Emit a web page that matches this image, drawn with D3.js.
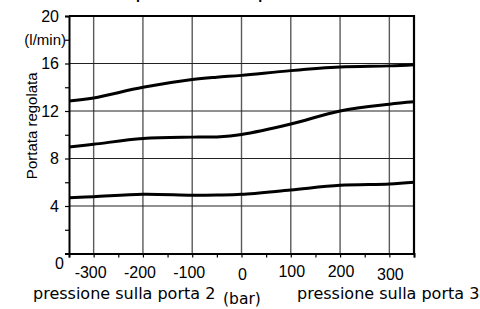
<!DOCTYPE html>
<html>
<head>
<meta charset="utf-8">
<script src="https://cdn.jsdelivr.net/npm/d3@7"></script>
<style>
    body { margin: 0; background: #fff; }
    svg { display: block; }
</style>
</head>
<body>
<div id="chartBoxId"><svg></svg></div>
<script>
// pressione (bar)
var pressure = [-350, -300, -200, -100, -50, 0, 100, 200, 300, 350]
// portata regolata (l/min), three curves
var curveHigh = [12.85, 13.1, 14.0, 14.65, 14.85, 15.0, 15.4, 15.7, 15.8, 15.9]
var curveMid = [8.97, 9.2, 9.68, 9.8, 9.82, 10.02, 10.9, 12.0, 12.57, 12.77]
var curveLow = [4.7, 4.78, 4.98, 4.9, 4.92, 4.98, 5.35, 5.74, 5.85, 6.0]

var xGrid = [-300, -200, -100, 0, 100, 200, 300]
var xMinor = [-350, -250, -150, -50, 50, 150, 250, 350]
var yGrid = [4, 8, 12, 16]
var yTicks = [0, 2, 4, 6, 8, 10, 12, 14, 16, 18, 20]
var yLabels = [
    {v: 20, t: "20"}, {v: 18, t: "(l/min)"}, {v: 16, t: "16"}, {v: 12, t: "12"},
    {v: 8, t: "8"}, {v: 4, t: "4"}, {v: 0, t: "0"}
]
var xLabels = ["-300", "-200", "-100", "0", "100", "200", "300"]

var margin = {top: 16, right: 66, bottom: 55.5, left: 69}
var width = 480 - margin.left - margin.right
var height = 309 - margin.top - margin.bottom

function showChart() {
    var svg = d3.select("#chartBoxId").select("svg")
        .attr("width", 480)
        .attr("height", 309)

    // title, almost all of it sits above the picture (only descenders show)
    svg.append("text")
        .attr("x", 136)
        .attr("y", -1)
        .style("font-family", "Liberation Sans, Arial, sans-serif")
        .style("font-size", "14.2px")
        .style("font-weight", "bold")
        .text("portata costante / pressione")

    var g = svg.append("g")
        .attr("transform", "translate(" + margin.left + "," + margin.top + ")")

    var xScale = d3.scaleLinear().domain([-350, 350]).range([0, width])
    var yScale = d3.scaleLinear().domain([0, 20]).range([height, 0])

    // grid
    g.selectAll(".vgrid").data(xGrid).enter().append("line")
        .attr("x1", d => xScale(d)).attr("x2", d => xScale(d))
        .attr("y1", 0).attr("y2", height)
        .attr("stroke", "#5a5a5a").attr("stroke-width", 1.4)
    g.selectAll(".hgrid").data(yGrid).enter().append("line")
        .attr("x1", 0).attr("x2", width)
        .attr("y1", d => yScale(d)).attr("y2", d => yScale(d))
        .attr("stroke", "#222").attr("stroke-width", 1.2)

    // axes with small ticks, labels drawn by hand
    g.append("g")
        .attr("transform", "translate(0," + height + ")")
        .call(d3.axisBottom(xScale).tickValues(xGrid.concat(xMinor)).tickSize(4).tickFormat(""))
        .call(a => a.select(".domain").attr("stroke-width", 2))
        .call(a => a.selectAll(".tick line").attr("stroke-width", 1.2))
    g.append("g")
        .call(d3.axisLeft(yScale).tickValues(yTicks).tickSize(4).tickFormat(""))
        .call(a => a.select(".domain").attr("stroke-width", 2))
        .call(a => a.selectAll(".tick line").attr("stroke-width", 1.2))

    // top and right border
    g.append("path")
        .attr("d", "M0,0H" + width + "V" + height)
        .attr("fill", "none").attr("stroke", "#000").attr("stroke-width", 2.2)

    var labelFont = "Liberation Sans, Arial, sans-serif"
    g.selectAll(".ylab").data(yLabels).enter().append("text")
        .attr("x", d => d.v == 18 ? -3 : (d.v == 0 ? -5 : -10))
        .attr("y", d => yScale(d.v) + (d.v == 0 ? 10 : 0))
        .attr("dy", "0.36em")
        .attr("text-anchor", "end")
        .style("font-family", labelFont)
        .style("font-size", d => d.v == 18 ? "15px" : "16px")
        .text(d => d.t)

    g.selectAll(".xlab").data(xLabels).enter().append("text")
        .attr("x", (d, i) => xScale(xGrid[i]) + (xGrid[i] < 0 ? -3 : 1))
        .attr("y", (d, i) => height + (xGrid[i] == 100 || xGrid[i] == 200 ? 23.5 : (xGrid[i] == 0 || xGrid[i] == 300 ? 26.5 : 24.5)))
        .attr("text-anchor", "middle")
        .style("font-family", labelFont)
        .style("font-size", "16px")
        .text(d => d)

    g.append("text")
        .attr("transform", "translate(-32," + (yScale(10) - 9) + ") rotate(-90)")
        .attr("text-anchor", "middle")
        .style("font-family", labelFont)
        .style("font-size", "15px")
        .text("Portata regolata")

    var titleFont = "DejaVu Sans, Verdana, sans-serif"
    svg.append("text")
        .attr("x", 33).attr("y", 299)
        .style("font-family", titleFont).style("font-size", "16px")
        .text("pressione sulla porta 2")
    svg.append("text")
        .attr("x", 297).attr("y", 299)
        .style("font-family", titleFont).style("font-size", "16px")
        .text("pressione sulla porta 3")
    svg.append("text")
        .attr("x", 223).attr("y", 304)
        .style("font-family", titleFont).style("font-size", "15.5px")
        .text("(bar)")

    // curves
    var line = d3.line()
        .x((d, i) => xScale(pressure[i]))
        .y(d => yScale(d))
        .curve(d3.curveCatmullRom.alpha(0.5))

    g.selectAll(".curve").data([curveHigh, curveMid, curveLow]).enter().append("path")
        .attr("d", line)
        .attr("fill", "none")
        .attr("stroke", "#000")
        .attr("stroke-width", 3)
}

showChart()
</script>
</body>
</html>
